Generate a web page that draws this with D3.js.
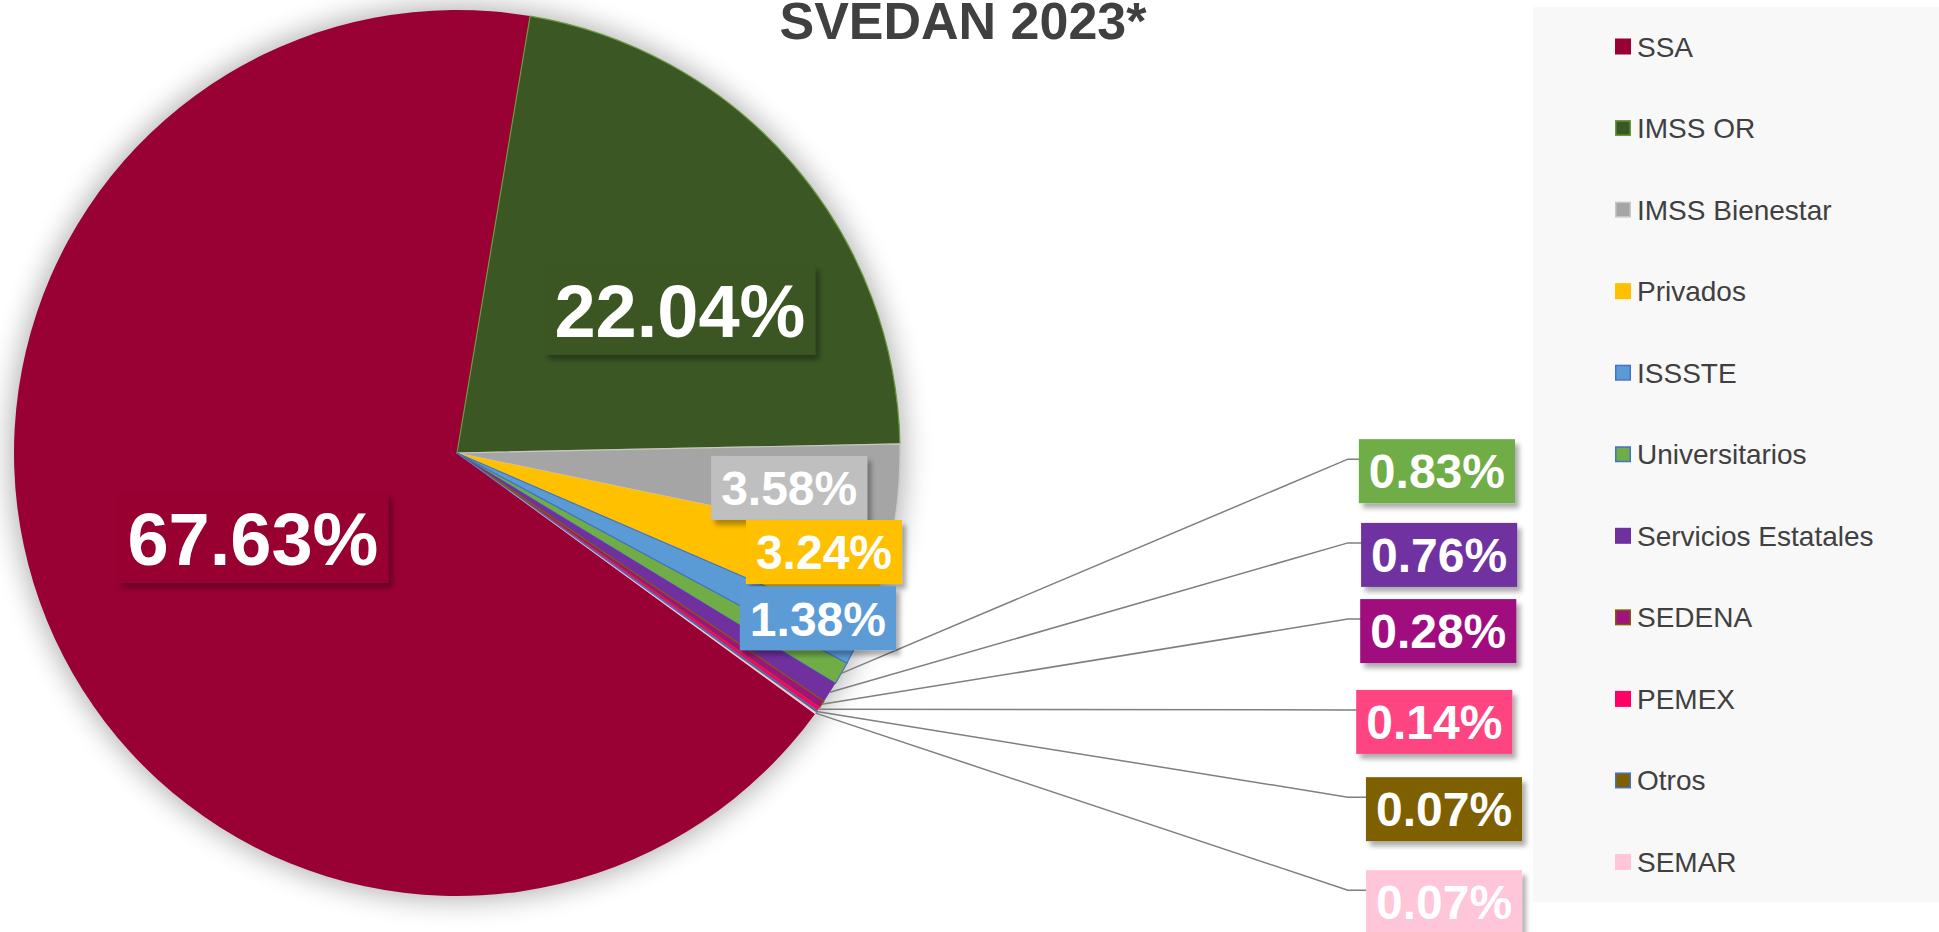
<!DOCTYPE html>
<html>
<head>
<meta charset="utf-8">
<script src="https://cdn.jsdelivr.net/npm/d3@7"></script>
<style>
  html, body { margin: 0; padding: 0; background: #ffffff; }
  svg { display: block; font-family: "Liberation Sans", Arial, sans-serif; }
</style>
</head>
<body>
<svg id="chart" width="1939" height="932"></svg>
<script>
// ---- data ----
const categories = ["SSA", "IMSS OR", "IMSS Bienestar", "Privados", "ISSSTE", "Universitarios",
                    "Servicios Estatales", "SEDENA", "PEMEX", "Otros", "SEMAR"];
const values = [67.63, 22.04, 3.58, 3.24, 1.38, 0.83, 0.76, 0.28, 0.14, 0.07, 0.07];
const labelTexts = ["67.63%", "22.04%", "3.58%", "3.24%", "1.38%", "0.83%", "0.76%", "0.28%", "0.14%", "0.07%", "0.07%"];
const titleText = "SVEDAN 2023*";

// ---- styles ----
const sliceColors = ["#990033", "#3A5724", "#A5A5A5", "#FFC000", "#5B9BD5", "#70AD47",
                     "#7030A0", "#A0137E", "#FF0066", "#7F6000", "#FFC5D8"];
const sliceStrokes = [null, "#6A9A3C", "#C8C8C8", null, "#4472C4", "#4472C4",
                      null, "#7F6000", null, "#4472C4", null];
const labelColors = ["#990033", "#3A5724", "#BFBFBF", "#FFC000", "#5B9BD5", "#70AD47",
                     "#7030A0", "#A0107E", "#FF4581", "#7F6000", "#FFC5D8"];

// ---- layout ----
const W = 1939, H = 932;
const cx = 457, cy = 453, R = 443;
const startDeg = 126.08;
// inner labels: [angle (deg clockwise from 12 o'clock), radius fraction]
const innerLabelPolar = {0: [247.4, 0.499], 1: [57.3, 0.598], 2: [96.0, 0.754], 3: [105.1, 0.858], 4: [114.6, 0.896]};
// outer labels: [x centre, y centre] in units of radius relative to the pie centre
const outerLabelRel = {5: [2.212, 0.041], 6: [2.217, 0.230], 7: [2.215, 0.402], 8: [2.206, 0.607], 9: [2.228, 0.804], 10: [2.228, 1.014]};
const elbowRel = 2.011;

const svg = d3.select("#chart");
const defs = svg.append("defs");

const pieShadow = defs.append("filter").attr("id", "pieShadow")
  .attr("x", "-20%").attr("y", "-20%").attr("width", "140%").attr("height", "140%");
pieShadow.append("feGaussianBlur").attr("in", "SourceAlpha").attr("stdDeviation", 14);

const boxShadow = defs.append("filter").attr("id", "boxShadow")
  .attr("x", "-20%").attr("y", "-20%").attr("width", "150%").attr("height", "160%");
boxShadow.append("feDropShadow").attr("dx", 4).attr("dy", 5).attr("stdDeviation", 2.5)
  .attr("flood-color", "#000").attr("flood-opacity", 0.32);

// ---- title ----
svg.append("text")
  .attr("x", 963).attr("y", 39)
  .attr("text-anchor", "middle")
  .attr("font-size", 52).attr("font-weight", "bold")
  .attr("fill", "#404040")
  .text(titleText);

// ---- legend ----
svg.append("rect").attr("x", 1533).attr("y", 7).attr("width", W - 1533).attr("height", 895)
  .attr("fill", "#F8F8F8");
const ly = d3.scaleLinear().domain([0, categories.length - 1]).range([46.5, 862]);
const leg = svg.append("g").selectAll("g").data(categories).join("g")
  .attr("transform", (d, i) => `translate(1615,${ly(i)})`);
leg.append("rect")
  .attr("x", 0.75).attr("y", -7.25).attr("width", 14.5).attr("height", 14.5)
  .attr("fill", (d, i) => sliceColors[i])
  .attr("stroke", (d, i) => sliceStrokes[i] || sliceColors[i])
  .attr("stroke-width", 1.5);
leg.append("text")
  .attr("x", 22).attr("y", 10)
  .attr("font-size", 28).attr("fill", "#404040")
  .text(d => d);

// ---- pie ----
const toRad = d => d * Math.PI / 180;
const pie = d3.pie().sort(null).value(d => d)
  .startAngle(toRad(startDeg)).endAngle(toRad(startDeg) + 2 * Math.PI);
const arcs = pie(values);
const arc = d3.arc().innerRadius(0).outerRadius(R);

const g = svg.append("g").attr("transform", `translate(${cx},${cy})`);
g.append("circle").attr("r", R + 4).attr("fill", "#000").attr("opacity", 0.3)
  .attr("filter", "url(#pieShadow)");
g.selectAll("path.slice").data(arcs).join("path")
  .attr("class", "slice")
  .attr("d", arc)
  .attr("fill", (d, i) => sliceColors[i])
  .attr("stroke", (d, i) => sliceStrokes[i] || "none")
  .attr("stroke-width", 1.2)
  .attr("stroke-linejoin", "round");

// ---- leader lines ----
const outerIdx = Object.keys(outerLabelRel).map(Number);
outerIdx.forEach(i => {
  const a = (arcs[i].startAngle + arcs[i].endAngle) / 2;
  const p0 = [R * Math.sin(a), -R * Math.cos(a)];
  const [rx, ryc] = outerLabelRel[i];
  const yAttach = ryc * R - 12;
  const xBox = rx * R - 76;
  g.append("polyline")
    .attr("points", [p0, [elbowRel * R, yAttach], [xBox, yAttach]].map(p => p.join(",")).join(" "))
    .attr("fill", "none").attr("stroke", "#7F7F7F").attr("stroke-width", 1.5);
});

// ---- labels ----
function drawLabel(i, x, y, fs) {
  const lg = g.append("g").attr("transform", `translate(${x},${y})`);
  const box = lg.append("rect").attr("fill", labelColors[i]).attr("filter", "url(#boxShadow)");
  const t = lg.append("text")
    .attr("text-anchor", "middle")
    .attr("y", fs * 0.36)
    .attr("font-size", fs).attr("font-weight", "bold")
    .attr("fill", "#FFFFFF")
    .text(labelTexts[i]);
  const tw = t.node().getComputedTextLength();
  const bw = tw + 20, bh = fs + 16;
  box.attr("x", -bw / 2).attr("y", -bh / 2).attr("width", bw).attr("height", bh);
}

Object.keys(innerLabelPolar).map(Number).forEach(i => {
  const [ang, rf] = innerLabelPolar[i];
  const a = toRad(ang);
  const fs = values[i] > 10 ? 74 : 48;
  drawLabel(i, rf * R * Math.sin(a), -rf * R * Math.cos(a), fs);
});
outerIdx.forEach(i => {
  const [rx, ryc] = outerLabelRel[i];
  drawLabel(i, rx * R, ryc * R, 48);
});
</script>
</body>
</html>
